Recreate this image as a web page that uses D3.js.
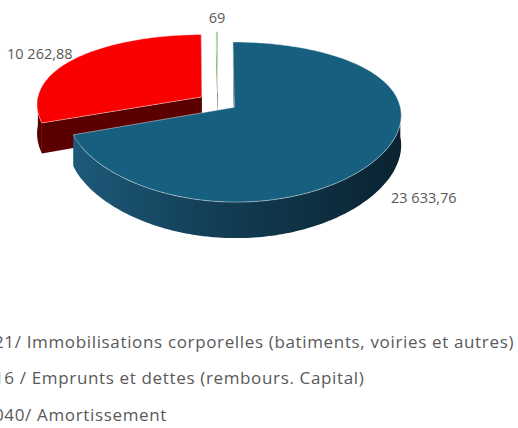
<!DOCTYPE html>
<meta charset="utf-8">
<style>
body { margin: 0; background: #fff; }
svg { display: block; }
.lbl { font-family: "Open Sans", sans-serif; font-size: 14.5px; fill: #595959; }
.legend text { font-family: "Open Sans", sans-serif; font-size: 17px; fill: #595959; letter-spacing: 0.65px; }
</style>
<svg width="518" height="428"></svg>
<script src="https://d3js.org/d3.v7.min.js"></script>
<script>
// slice data, in drawing order (clockwise from 12 o'clock)
var categories = ["21/ Immobilisations corporelles (batiments, voiries et autres)",
                  "16 / Emprunts et dettes (rembours. Capital)",
                  "040/ Amortissement"];
var values = [23633.76, 10262.88, 69];
var topColors = ["#175f7f", "#fb0000", "#8cc07a"];
var sideColors = ["#0c2939", "#5a0000", "#4d7d3c"];

var svg = d3.select("svg"),
    width = +svg.attr("width"),
    height = +svg.attr("height");

var fr = d3.formatLocale({decimal: ",", thousands: " ", grouping: [3]}).format(",.2~f");

// 3d projection of the tilted disc
var cx = 218, cy = 102, A = 165, B = 75.4, q = 0.182, T = 29, explode = 0.12;
function proj(X, Z, h) {
  var p = 1 / (1 - q * Z);
  return [cx + A * X * Math.sqrt(p), cy + B * Z * p + h * T * p];
}

var pie = d3.pie().sort(null).value(function(d) { return d; });
var arcs = pie(values);
arcs.forEach(function(d, i) {
  var m = (d.startAngle + d.endAngle) / 2;
  d.ox = explode * Math.sin(m);
  d.oz = -explode * Math.cos(m);
});

function rim(d, a, h) { return proj(d.ox + Math.sin(a), d.oz - Math.cos(a), h); }
function apex(d, h) { return proj(d.ox, d.oz, h); }
function steps(a0, a1) {
  var n = Math.max(2, Math.ceil((a1 - a0) / 0.02));
  return d3.range(n + 1).map(function(k) { return a0 + (a1 - a0) * k / n; });
}

var line = d3.line();
var defs = svg.append("defs");
var grad = defs.append("linearGradient").attr("id", "blueWall")
    .attr("gradientUnits", "userSpaceOnUse")
    .attr("x1", 70).attr("x2", 400).attr("y1", 0).attr("y2", 0);
grad.append("stop").attr("offset", 0).attr("stop-color", "#1d5a7a");
grad.append("stop").attr("offset", 0.45).attr("stop-color", "#123d54");
grad.append("stop").attr("offset", 1).attr("stop-color", "#0a2331");

var pieG = svg.append("g");

// back to front: red, green, blue
[1, 2, 0].forEach(function(i) {
  var d = arcs[i];
  var g = pieG.append("g");
  var side = i === 0 ? "url(#blueWall)" : sideColors[i];

  // radial cut faces, only those turned to the viewer
  [[d.startAngle, -1], [d.endAngle, 1]].forEach(function(f) {
    var a = f[0], s = f[1];
    var nx = s * Math.cos(a), nz = s * Math.sin(a);
    var mx = d.ox + Math.sin(a) / 2, mz = d.oz - Math.cos(a) / 2;
    if (nx * (-mx) + nz * (5.5 - mz) <= 0) return;
    g.append("path")
      .attr("d", line([apex(d, 0), rim(d, a, 0), rim(d, a, 1), apex(d, 1)]) + "Z")
      .attr("fill", sideColors[i]);
  });

  // outer wall, front half only
  var w0 = Math.max(d.startAngle, Math.PI / 2), w1 = Math.min(d.endAngle, 3 * Math.PI / 2);
  if (w1 > w0) {
    var st = steps(w0, w1);
    var pts = st.map(function(a) { return rim(d, a, 0); })
      .concat(st.slice().reverse().map(function(a) { return rim(d, a, 1); }));
    g.append("path").attr("d", line(pts) + "Z").attr("fill", side);
  }

  // top face
  var tp = [apex(d, 0)].concat(steps(d.startAngle, d.endAngle).map(function(a) { return rim(d, a, 0); }));
  g.append("path")
    .attr("d", line(tp) + "Z")
    .attr("fill", topColors[i])
    .attr("stroke", "rgba(255,255,255,0.6)")
    .attr("stroke-width", 0.7)
    .attr("stroke-linejoin", "round");
});

// value labels
svg.append("text").attr("class", "lbl").attr("x", 391).attr("y", 203).text(fr(values[0]));
svg.append("text").attr("class", "lbl").attr("x", 7).attr("y", 59).text(fr(values[1]));
svg.append("text").attr("class", "lbl").attr("x", 217).attr("y", 23)
    .attr("text-anchor", "middle").text(fr(values[2]));

// legend (cut by the left edge, as in the source)
var legend = svg.append("g").attr("class", "legend");
legend.selectAll("text").data(categories).enter().append("text")
    .attr("x", -6)
    .attr("y", function(d, i) { return 348 + i * 36.3; })
    .text(function(d) { return d; });
</script>
